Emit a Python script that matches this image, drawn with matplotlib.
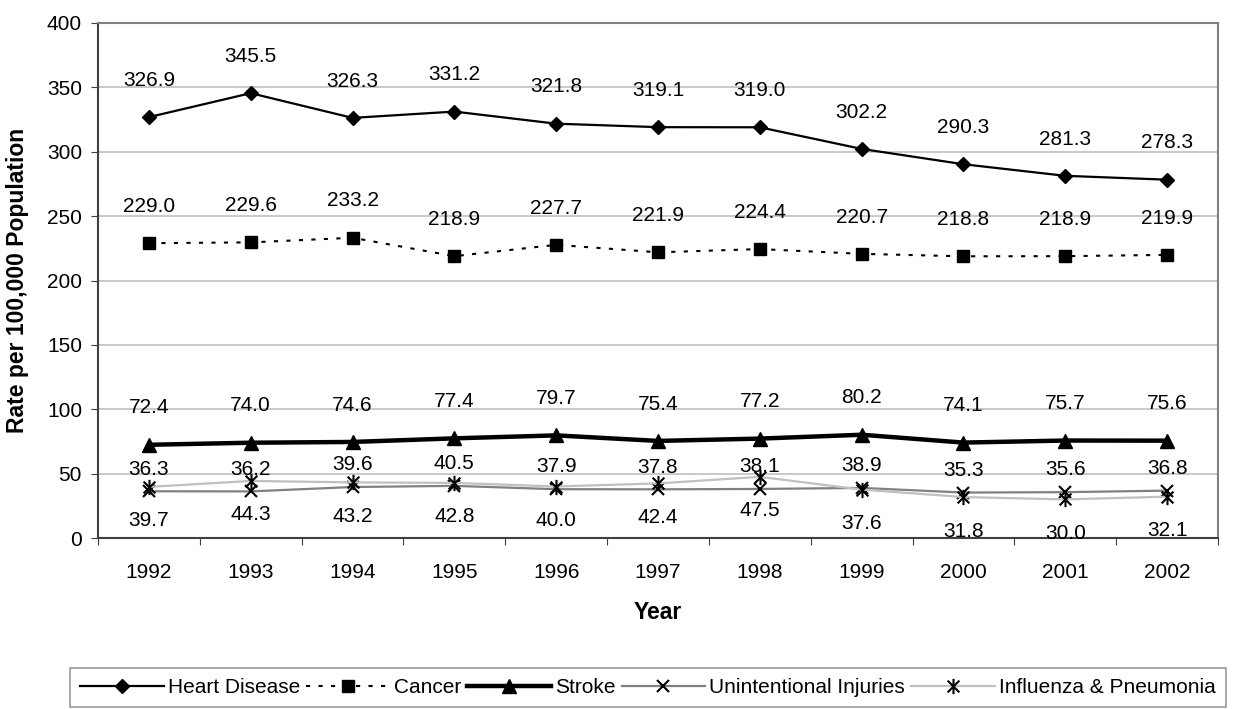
import numpy as np
import matplotlib.pyplot as plt
from matplotlib.path import Path

plt.rcParams['font.family'] = ['Liberation Sans', 'DejaVu Sans']

years = ["1992", "1993", "1994", "1995", "1996", "1997", "1998", "1999", "2000", "2001", "2002"]
heart = [326.9, 345.5, 326.3, 331.2, 321.8, 319.1, 319.0, 302.2, 290.3, 281.3, 278.3]
cancer = [229.0, 229.6, 233.2, 218.9, 227.7, 221.9, 224.4, 220.7, 218.8, 218.9, 219.9]
stroke = [72.4, 74.0, 74.6, 77.4, 79.7, 75.4, 77.2, 80.2, 74.1, 75.7, 75.6]
injuries = [36.3, 36.2, 39.6, 40.5, 37.9, 37.8, 38.1, 38.9, 35.3, 35.6, 36.8]
influenza = [39.7, 44.3, 43.2, 42.8, 40.0, 42.4, 47.5, 37.6, 31.8, 30.0, 32.1]

# excel style asterisk: x plus a vertical bar
star = Path([(-1, -1), (1, 1), (-1, 1), (1, -1), (0, -1.3), (0, 1.3)],
            [Path.MOVETO, Path.LINETO, Path.MOVETO, Path.LINETO, Path.MOVETO, Path.LINETO])

x = np.arange(len(years))

fig = plt.figure(figsize=(12.37, 7.09), dpi=100)
ax = fig.add_axes([98/1237, 1 - 538/709, 1120/1237, 515/709])

series = [
    (heart, "Heart Disease", dict(color="black", lw=1.6, marker="D", ms=7.5), 26.5),
    (cancer, "Cancer", dict(color="black", lw=1.5, ls=(0, (2, 4)), marker="s", ms=8), 26.5),
    (stroke, "Stroke", dict(color="black", lw=3.2, marker="^", ms=9.5), 26.5),
    (injuries, "Unintentional Injuries", dict(color="#808080", lw=1.6, marker="x", ms=8.5,
                                               mec="black", mew=1.5), 16),
    (influenza, "Influenza & Pneumonia", dict(color="#c0c0c0", lw=1.6, marker=star, ms=11,
                                              mec="black", mew=1.5), -24.5),
]

for vals, name, style, off in series:
    ax.plot(x, vals, label=name, mfc="black", **style)
    for xi, v in zip(x, vals):
        ax.annotate("%.1f" % v, (xi, v), xytext=(0, off), textcoords="offset points",
                    ha="center", va="center", fontsize=15)

ax.set_xlim(-0.5, len(years) - 0.5)
ax.set_ylim(0, 400)
ax.set_yticks(range(0, 401, 50))
ax.yaxis.grid(True, color="#c0c0c0", lw=1.2)
ax.set_axisbelow(True)

ax.set_xticks(np.arange(-0.5, len(years)), labels=[""] * (len(years) + 1))
ax.set_xticks(x, labels=years, minor=True)
ax.tick_params(axis="x", which="major", length=5, direction="out", color="#404040")
ax.tick_params(axis="x", which="minor", length=0, pad=18, labelsize=15)
ax.tick_params(axis="y", length=5, pad=6.5, labelsize=15, color="#404040")

for s in ("left", "bottom"):
    ax.spines[s].set_color("#404040")
    ax.spines[s].set_linewidth(1.5)
for s in ("top", "right"):
    ax.spines[s].set_color("#808080")
    ax.spines[s].set_linewidth(1.5)

ax.set_ylabel("Rate per 100,000 Population", fontsize=16.5, fontweight="bold", va="center")
ax.yaxis.set_label_coords(-0.072, 0.5)
ax.set_xlabel("Year", fontsize=16.5, fontweight="bold", va="center")
ax.xaxis.set_label_coords(0.5, -0.1437)

leg = fig.legend(loc="center", bbox_to_anchor=(648/1237, 1 - 687.5/709), ncol=5,
                 fontsize=15, frameon=True, fancybox=False, edgecolor="#808080",
                 handlelength=4, columnspacing=0.3, handletextpad=0.2, borderpad=0.5)
leg.get_frame().set_linewidth(1.2)

fig.savefig("out.png", dpi=100)
